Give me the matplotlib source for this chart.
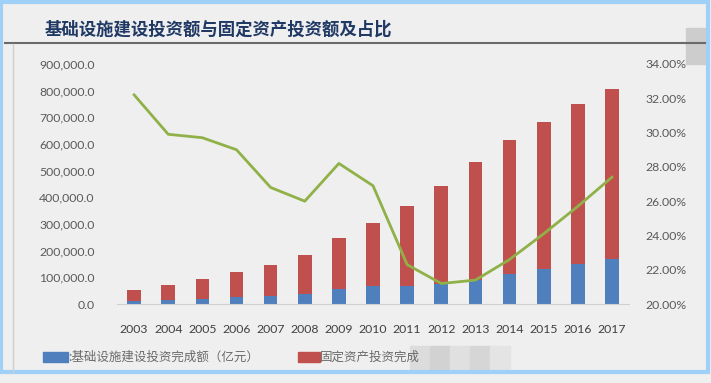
import matplotlib.pyplot as plt
import numpy as np
from matplotlib.patches import Rectangle
from matplotlib.lines import Line2D

plt.rcParams['font.family'] = ['Lato', 'Noto Sans CJK SC', 'DejaVu Sans']

# 数据
years = ['2003', '2004', '2005', '2006', '2007', '2008', '2009', '2010',
         '2011', '2012', '2013', '2014', '2015', '2016', '2017']
infra = [12000, 15000, 20000, 25000, 30000, 38000, 56000, 66000,
         66000, 76000, 91000, 114000, 131000, 151000, 170000]
total_top = [53600, 72000, 95000, 120000, 147000, 185000, 247000, 304000,
             369000, 441000, 531000, 614000, 684000, 750000, 806000]
ratio = [32.2, 29.9, 29.7, 29.0, 26.8, 26.0, 28.2, 26.9,
         22.3, 21.2, 21.4, 22.6, 24.1, 25.7, 27.4]

title = '基础设施建设投资额与固定资产投资额及占比'
legend1 = ':基础设施建设投资完成额（亿元）'
legend2 = '固定资产投资完成'

blue = '#4f7fbc'
red = '#c0504d'
green = '#8fb148'
bg = '#efefef'

fig = plt.figure(figsize=(7.11, 3.83), dpi=100, facecolor=bg)
ax = fig.add_axes([0.1646, 0.206, 0.7201, 0.627])
ax.set_facecolor(bg)

x = np.arange(len(years))
fixed_part = [t - b for t, b in zip(total_top, infra)]
ax.bar(x, infra, width=0.4, color=blue, zorder=2)
ax.bar(x, fixed_part, width=0.4, bottom=infra, color=red, zorder=2)

ax.set_xlim(-0.5, len(years) - 0.5)
ax.set_ylim(0, 900000)
ax.set_yticks(np.arange(0, 900001, 100000))
ax.set_yticklabels([f'{v:,.1f}' for v in np.arange(0, 900001, 100000)])
ax.set_xticks(x)
ax.set_xticklabels(years)
ax.tick_params(axis='y', length=0, labelsize=8.8, colors='#5a5a5a', pad=16)
ax.tick_params(axis='x', length=0, labelsize=8.8, colors='#404040', pad=14)
for s in ['top', 'right', 'left']:
    ax.spines[s].set_visible(False)
ax.spines['bottom'].set_color('#d0d0d0')

ax2 = ax.twinx()
ax2.plot(x, ratio, color=green, lw=2, zorder=3)
ax2.set_ylim(20, 34)
ax2.set_yticks(np.arange(20, 34.1, 2))
ax2.set_yticklabels([f'{v:.2f}%' for v in np.arange(20, 34.1, 2)])
ax2.tick_params(axis='y', length=0, labelsize=8.8, colors='#5a5a5a', pad=12)
for s in ax2.spines.values():
    s.set_visible(False)

# 标题与分隔线
fig.text(45 / 711, 1 - 30 / 383, title, fontsize=12.5, fontweight='bold',
         color='#1f3864', family=['Noto Sans CJK SC'], va='center')
fig.add_artist(Line2D([5 / 711, 705 / 711], [1 - 43 / 383] * 2,
                      color='#6a6a6a', lw=1.5))
fig.add_artist(Line2D([13 / 711] * 2, [1 - 44 / 383, 1 - 372 / 383],
                      color='#cfcfcf', lw=1))

# 图例
ly = 1 - 357 / 383
fig.add_artist(Rectangle((43 / 711, ly - 0.012), 25 / 711, 0.024,
                         color=blue, transform=fig.transFigure))
fig.text(68 / 711, ly, legend1, fontsize=9, color='#6a6a6a',
         family=['Noto Sans CJK SC'], va='center')
fig.add_artist(Rectangle((298 / 711, ly - 0.012), 22 / 711, 0.024,
                         color=red, transform=fig.transFigure))
fig.text(320 / 711, ly, legend2, fontsize=9, color='#6a6a6a',
         family=['Noto Sans CJK SC'], va='center')
# 马赛克遮挡
for i, c in enumerate(['#dcdcdc', '#d2d2d2', '#e0e0e0', '#d6d6d6', '#e4e4e4']):
    fig.add_artist(Rectangle(((410 + i * 20) / 711, 1 - 370 / 383), 20 / 711,
                             24 / 383, color=c, transform=fig.transFigure))

# 右上角图标
fig.add_artist(Rectangle((686 / 711, 1 - 64 / 383), 20 / 711, 36 / 383,
                         color='#cdcdcd', transform=fig.transFigure))

# 外框
fig.add_artist(Rectangle((0.002, 0.028), 0.994, 0.968, fill=False,
                         edgecolor='#9fd0f7', lw=3, transform=fig.transFigure))

fig.savefig('out.png', dpi=100, facecolor=bg)
